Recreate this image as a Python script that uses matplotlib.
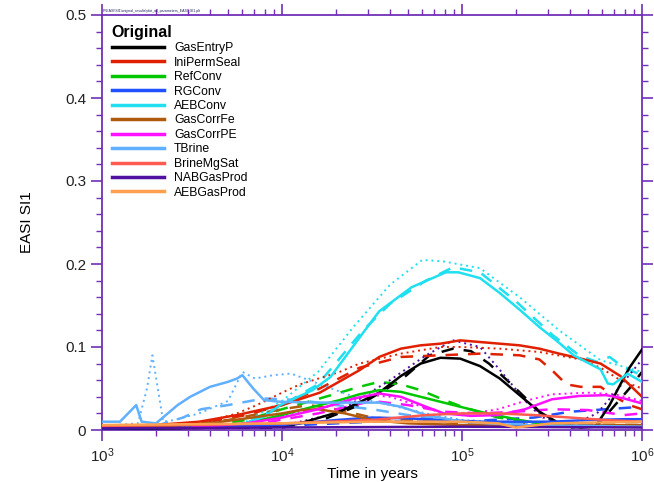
import numpy as np
import matplotlib
matplotlib.use("Agg")
import matplotlib.pyplot as plt
from matplotlib.ticker import LogLocator, MultipleLocator, FuncFormatter

plt.rcParams["font.family"] = ["Liberation Sans", "DejaVu Sans"]

# series names and colours (legend order)
names = ["GasEntryP", "IniPermSeal", "RefConv", "RGConv", "AEBConv", "GasCorrFe",
         "GasCorrPE", "TBrine", "BrineMgSat", "NABGasProd", "AEBGasProd"]
colors = ["#000000", "#e02000", "#00c800", "#2050ff", "#20e0f0", "#b05a10",
          "#ff10ff", "#60b0ff", "#ff5a50", "#5010a0", "#ffa050"]

# values: log10(time in years) and EASI SI1
gas_entry_solid_t = [3.0, 4.0, 4.1, 4.32, 4.54, 4.66, 4.77, 4.88, 4.99, 5.1, 5.21, 5.32, 5.43, 5.54, 5.66, 5.74, 5.82, 5.88, 5.93, 6.0]
gas_entry_solid_v = [0.001, 0.004, 0.008, 0.022, 0.045, 0.065, 0.08, 0.087, 0.086, 0.077, 0.062, 0.042, 0.022, 0.008, 0.003, 0.004, 0.03, 0.055, 0.075, 0.097]
gas_entry_dash_t = [3.0, 4.0, 4.2, 4.43, 4.66, 4.82, 4.95, 5.05, 5.15, 5.26, 5.37, 5.48, 5.6, 5.75, 5.85, 5.93, 6.0]
gas_entry_dash_v = [0.001, 0.003, 0.01, 0.03, 0.06, 0.09, 0.098, 0.095, 0.08, 0.058, 0.035, 0.012, 0.003, 0.005, 0.03, 0.05, 0.07]

ini_perm_solid_t = [3.0, 3.3, 3.54, 3.75, 4.0, 4.21, 4.43, 4.54, 4.66, 4.77, 4.88, 4.99, 5.1, 5.21, 5.32, 5.43, 5.54, 5.66, 5.77, 5.88, 6.0]
ini_perm_solid_v = [0.004, 0.006, 0.01, 0.018, 0.03, 0.045, 0.072, 0.088, 0.098, 0.102, 0.104, 0.108, 0.106, 0.104, 0.102, 0.098, 0.092, 0.086, 0.08, 0.065, 0.04]
ini_perm_dash_t = [3.6, 3.8, 4.0, 4.21, 4.43, 4.66, 4.88, 5.1, 5.32, 5.43, 5.5, 5.58, 5.66, 5.77, 5.85, 5.93, 6.0]
ini_perm_dash_v = [0.01, 0.018, 0.03, 0.05, 0.075, 0.088, 0.09, 0.092, 0.09, 0.085, 0.072, 0.055, 0.052, 0.052, 0.04, 0.03, 0.025]
ini_perm_dot_t = [3.5, 3.75, 3.86, 4.0, 4.1, 4.32, 4.43, 4.66, 4.88, 5.0, 5.21, 5.43, 5.66, 5.77, 5.88, 6.0]
ini_perm_dot_v = [0.005, 0.02, 0.03, 0.045, 0.055, 0.07, 0.08, 0.092, 0.1, 0.1, 0.098, 0.094, 0.085, 0.075, 0.06, 0.05]

ref_solid_t = [3.6, 3.8, 4.0, 4.1, 4.21, 4.32, 4.43, 4.54, 4.66, 4.77, 4.88, 4.99, 5.1, 5.21, 5.32, 5.43, 5.6, 5.8, 6.0]
ref_solid_v = [0.003, 0.008, 0.018, 0.024, 0.03, 0.036, 0.043, 0.048, 0.046, 0.04, 0.034, 0.028, 0.022, 0.017, 0.012, 0.008, 0.005, 0.004, 0.004]
ref_dash_t = [3.6, 3.8, 4.0, 4.21, 4.43, 4.54, 4.66, 4.77, 4.88, 5.0, 5.2, 5.5, 6.0]
ref_dash_v = [0.005, 0.012, 0.025, 0.038, 0.052, 0.058, 0.055, 0.048, 0.038, 0.028, 0.015, 0.006, 0.004]

rg_solid_t = [3.0, 3.5, 4.0, 4.3, 4.5, 4.7, 4.9, 5.1, 5.3, 5.5, 5.7, 5.9, 6.0]
rg_solid_v = [0.002, 0.003, 0.006, 0.012, 0.015, 0.014, 0.012, 0.01, 0.01, 0.01, 0.012, 0.013, 0.013]
rg_dash_t = [3.0, 4.0, 4.5, 5.0, 5.4, 5.6, 5.8, 6.0]
rg_dash_v = [0.002, 0.005, 0.01, 0.01, 0.015, 0.022, 0.025, 0.028]

aeb_solid_t = [3.8, 3.9, 3.99, 4.17, 4.27, 4.45, 4.54, 4.72, 4.91, 4.98, 5.1, 5.21, 5.32, 5.43, 5.54, 5.62, 5.69, 5.77, 5.81, 5.84, 5.92, 6.0]
aeb_solid_v = [0.008, 0.016, 0.03, 0.048, 0.064, 0.117, 0.143, 0.172, 0.19, 0.19, 0.183, 0.165, 0.145, 0.124, 0.105, 0.09, 0.082, 0.073, 0.056, 0.055, 0.068, 0.058]
aeb_dash_t = [3.8, 4.0, 4.2, 4.45, 4.6, 4.8, 4.95, 5.1, 5.3, 5.5, 5.65, 5.75, 5.82, 5.9, 6.0]
aeb_dash_v = [0.008, 0.03, 0.055, 0.12, 0.152, 0.18, 0.196, 0.19, 0.155, 0.115, 0.09, 0.082, 0.088, 0.075, 0.066]
aeb_dot_t = [3.8, 4.0, 4.2, 4.4, 4.6, 4.78, 4.9, 5.1, 5.32, 5.54, 5.77, 6.0]
aeb_dot_v = [0.01, 0.035, 0.07, 0.125, 0.175, 0.205, 0.203, 0.195, 0.16, 0.12, 0.084, 0.07]

corr_fe_solid_t = [3.0, 3.3, 3.6, 3.8, 4.0, 4.1, 4.2, 4.35, 4.5, 4.7, 5.0, 5.5, 6.0]
corr_fe_solid_v = [0.003, 0.004, 0.008, 0.014, 0.02, 0.024, 0.025, 0.02, 0.012, 0.008, 0.006, 0.005, 0.006]
corr_fe_dash_t = [3.3, 3.7, 4.0, 4.15, 4.3, 4.5, 5.0, 6.0]
corr_fe_dash_v = [0.005, 0.012, 0.025, 0.03, 0.025, 0.015, 0.008, 0.006]

corr_pe_solid_t = [3.5, 3.8, 4.0, 4.2, 4.4, 4.54, 4.66, 4.8, 4.9, 5.05, 5.2, 5.35, 5.5, 5.65, 5.8, 5.9, 6.0]
corr_pe_solid_v = [0.003, 0.008, 0.015, 0.025, 0.038, 0.044, 0.04, 0.028, 0.02, 0.017, 0.018, 0.025, 0.037, 0.041, 0.042, 0.038, 0.032]
corr_pe_dash_t = [3.8, 4.2, 4.5, 4.7, 4.9, 5.1, 5.3, 5.5, 5.7, 5.9, 6.0]
corr_pe_dash_v = [0.005, 0.02, 0.035, 0.03, 0.022, 0.02, 0.022, 0.025, 0.024, 0.018, 0.02]
corr_pe_dot_t = [3.8, 4.2, 4.5, 4.6, 4.75, 4.9, 5.05, 5.2, 5.35, 5.5, 5.7, 5.85, 6.0]
corr_pe_dot_v = [0.008, 0.025, 0.042, 0.04, 0.03, 0.02, 0.02, 0.025, 0.035, 0.043, 0.045, 0.043, 0.035]

tbrine_solid_t = [3.0, 3.1, 3.19, 3.22, 3.3, 3.42, 3.49, 3.6, 3.7, 3.75, 3.78, 3.84, 3.9, 3.99, 4.2, 4.54, 4.66, 4.8, 5.0, 5.3, 6.0]
tbrine_solid_v = [0.01, 0.01, 0.03, 0.01, 0.008, 0.03, 0.04, 0.052, 0.058, 0.062, 0.066, 0.05, 0.036, 0.034, 0.033, 0.033, 0.028, 0.018, 0.01, 0.006, 0.004]
tbrine_dash_t = [3.3, 3.45, 3.55, 3.7, 3.9, 4.1, 4.3, 4.5, 4.7, 5.0, 5.5, 6.0]
tbrine_dash_v = [0.005, 0.015, 0.025, 0.03, 0.038, 0.036, 0.03, 0.025, 0.018, 0.01, 0.006, 0.005]
tbrine_dot_t = [3.0, 3.2, 3.25, 3.28, 3.31, 3.34, 3.4, 3.54, 3.7, 3.78, 3.85, 3.95, 4.05, 4.15, 4.25, 4.4, 4.6, 4.8, 5.0, 5.5, 6.0]
tbrine_dot_v = [0.005, 0.008, 0.05, 0.09, 0.05, 0.01, 0.012, 0.02, 0.035, 0.07, 0.062, 0.066, 0.068, 0.06, 0.052, 0.04, 0.03, 0.02, 0.012, 0.006, 0.005]

brine_mg_t = [3.0, 3.5, 4.0, 4.5, 4.8, 5.0, 5.2, 5.4, 5.6, 5.8, 6.0]
brine_mg_v = [0.005, 0.006, 0.008, 0.012, 0.018, 0.02, 0.02, 0.018, 0.015, 0.012, 0.01]

nab_solid_t = [3.0, 4.0, 5.0, 6.0]
nab_solid_v = [0.002, 0.003, 0.004, 0.003]
nab_dot_t = [3.0, 4.0, 4.3, 4.6, 4.8, 4.95, 5.1, 5.2, 5.38, 5.45, 5.6, 5.75, 5.85, 6.0]
nab_dot_v = [0.002, 0.005, 0.02, 0.06, 0.09, 0.108, 0.1, 0.075, 0.028, 0.015, 0.005, 0.02, 0.045, 0.085]

aeb_gas_solid_t = [3.0, 3.5, 4.0, 4.5, 5.0, 5.2, 5.3, 5.5, 6.0]
aeb_gas_solid_v = [0.006, 0.007, 0.008, 0.01, 0.01, 0.008, 0.003, 0.008, 0.01]

solid = [(gas_entry_solid_t, gas_entry_solid_v), (ini_perm_solid_t, ini_perm_solid_v),
         (ref_solid_t, ref_solid_v), (rg_solid_t, rg_solid_v), (aeb_solid_t, aeb_solid_v),
         (corr_fe_solid_t, corr_fe_solid_v), (corr_pe_solid_t, corr_pe_solid_v),
         (tbrine_solid_t, tbrine_solid_v), (brine_mg_t, brine_mg_v),
         (nab_solid_t, nab_solid_v), (aeb_gas_solid_t, aeb_gas_solid_v)]
dashed = {0: (gas_entry_dash_t, gas_entry_dash_v), 1: (ini_perm_dash_t, ini_perm_dash_v),
          2: (ref_dash_t, ref_dash_v), 3: (rg_dash_t, rg_dash_v), 4: (aeb_dash_t, aeb_dash_v),
          5: (corr_fe_dash_t, corr_fe_dash_v), 6: (corr_pe_dash_t, corr_pe_dash_v),
          7: (tbrine_dash_t, tbrine_dash_v)}
dotted = {1: (ini_perm_dot_t, ini_perm_dot_v), 4: (aeb_dot_t, aeb_dot_v),
          6: (corr_pe_dot_t, corr_pe_dot_v), 7: (tbrine_dot_t, tbrine_dot_v),
          9: (nab_dot_t, nab_dot_v)}

axis_col = "#7030b8"

fig = plt.figure(figsize=(6.54, 4.82), dpi=100)
ax = fig.add_axes([102 / 654, 1 - 430 / 482, 540 / 654, 415 / 482])

for i, (t, v) in enumerate(solid):
    ax.plot(10 ** np.array(t), v, color=colors[i], lw=1.8, label=names[i], zorder=3)
for i, (t, v) in dashed.items():
    ax.plot(10 ** np.array(t), v, color=colors[i], lw=1.8, ls=(0, (5, 4)), zorder=2)
for i, (t, v) in dotted.items():
    ax.plot(10 ** np.array(t), v, color=colors[i], lw=1.4, ls=(0, (1, 2)), zorder=2)

ax.set_xscale("log")
ax.set_xlim(1e3, 1e6)
ax.set_ylim(0, 0.5)
ax.yaxis.set_major_locator(MultipleLocator(0.1))
ax.yaxis.set_minor_locator(MultipleLocator(0.02))
ax.yaxis.set_major_formatter(FuncFormatter(lambda y, _: "0" if abs(y) < 1e-9 else f"{y:.1f}"))
ax.xaxis.set_major_locator(LogLocator(base=10, numticks=10))
ax.xaxis.set_minor_locator(LogLocator(base=10, subs=np.arange(2, 10), numticks=20))

for s in ax.spines.values():
    s.set_color(axis_col)
    s.set_linewidth(1.3)
ax.tick_params(which="both", direction="out", color=axis_col, top=True, right=True,
               labelsize=11, labelcolor="#222222")
ax.tick_params(which="major", length=8, width=1.2)
ax.tick_params(which="minor", length=4, width=1.0)

ax.set_xlabel("Time in years", fontsize=11, labelpad=2)
ax.set_ylabel("EASI SI1", fontsize=11, labelpad=22)

leg = ax.legend(loc="upper left", frameon=False, fontsize=8.8, handlelength=4.3,
                handletextpad=0.8, labelspacing=0.2, borderaxespad=0.3,
                borderpad=0.5, title="Original", alignment="left",
                title_fontproperties={"weight": "bold", "size": 11.5})
for line in leg.get_lines():
    line.set_linewidth(2.5)

fig.text(0.157, 0.972, "P:\\EASI\\SI1\\original_results\\plot_all_parameters_EASI_SI1.plt",
         fontsize=2.5, color="#202060", va="bottom")

fig.savefig("out.png", dpi=100)
